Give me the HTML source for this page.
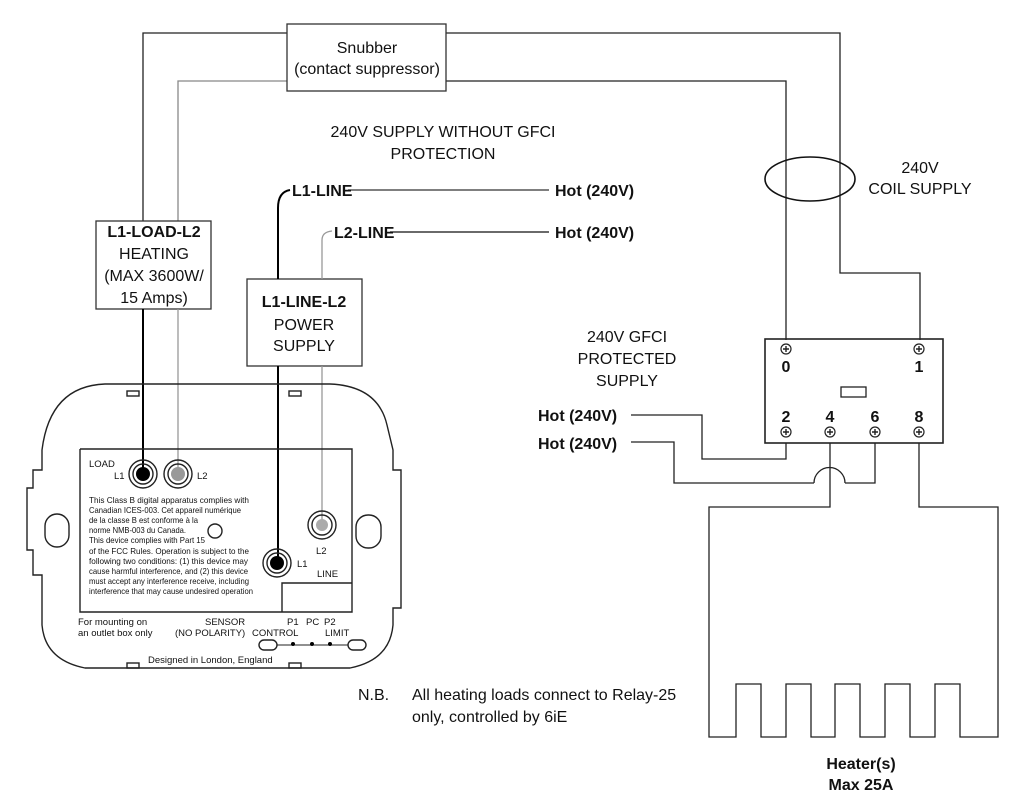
<!DOCTYPE html>
<html><head><meta charset="utf-8"><style>
html,body{margin:0;padding:0;background:#fff}
svg{display:block}
.t{font-family:"Liberation Sans",sans-serif;font-size:16px;fill:#111}
.b{font-weight:bold}
.s{font-family:"Liberation Sans",sans-serif;font-size:8.5px;fill:#111}
.m{font-family:"Liberation Sans",sans-serif;font-size:9.5px;fill:#111}
</style></head><body>
<svg width="1016" height="803" viewBox="0 0 1016 803" xmlns="http://www.w3.org/2000/svg">
<g fill="none" stroke-width="1.3">
<polyline stroke="#222" points="143,221 143,33 287,33"/>
<polyline stroke="#222" points="446,33 840,33 840,273 920,273 920,340"/>
<polyline stroke="#888" points="178,221 178,81 287,81"/>
<polyline stroke="#222" points="446,81 786,81 786,340"/>
<rect x="287" y="24" width="159" height="67" stroke="#333"/>
<ellipse cx="810" cy="179" rx="45" ry="22" stroke="#111" stroke-width="1.6"/>
<rect x="96" y="221" width="115" height="88" stroke="#333"/>
<rect x="247" y="279" width="115" height="87" stroke="#333"/>
<line x1="143" y1="309" x2="143" y2="474" stroke="#000" stroke-width="2"/>
<line x1="178" y1="309" x2="178" y2="474" stroke="#999"/>
<line x1="278" y1="366" x2="278" y2="563" stroke="#000" stroke-width="2"/>
<line x1="322" y1="366" x2="322" y2="525" stroke="#999"/>
<path d="M278 279 V208 Q278 192 290 190" stroke="#000" stroke-width="2"/>
<path d="M322 279 V240 Q322 232 332 231" stroke="#999"/>
<line x1="348" y1="190" x2="549" y2="190" stroke="#333"/>
<line x1="390" y1="232" x2="549" y2="232" stroke="#111"/>
<rect x="765" y="339" width="178" height="104" stroke="#222" stroke-width="1.6"/>
<rect x="841" y="387" width="25" height="10" stroke="#222"/>
<polyline stroke="#222" points="631,415 702,415 702,459 786,459 786,443"/>
<polyline stroke="#222" points="631,442 674,442 674,483 814,483"/>
<path d="M814 483 A15.5 15.5 0 0 1 845 483" stroke="#222"/>
<polyline stroke="#222" points="845,483 875,483 875,443"/>
<polyline stroke="#222" points="830,443 830,507 709,507 709,737 736,737 736,684 761,684 761,737 786,737 786,684 811,684 811,737 835,737 835,684 860,684 860,737 885,737 885,684 910,684 910,737 935,737 935,684 960,684 960,737 998,737 998,507 919,507 919,443"/>
</g>
<g fill="#fff" stroke="#222" stroke-width="1.2">
<circle cx="786" cy="349" r="5"/><circle cx="919" cy="349" r="5"/>
<circle cx="786" cy="432" r="5"/><circle cx="830" cy="432" r="5"/><circle cx="875" cy="432" r="5"/><circle cx="919" cy="432" r="5"/>
</g>
<g stroke="#222" stroke-width="1.4">
<path d="M783 349h6M786 346v6M916 349h6M919 346v6M783 432h6M786 429v6M827 432h6M830 429v6M872 432h6M875 429v6M916 432h6M919 429v6"/>
</g>
<g class="t b" font-size="16" text-anchor="middle">
<text x="786" y="372">0</text><text x="919" y="372">1</text>
<text x="786" y="422">2</text><text x="830" y="422">4</text><text x="875" y="422">6</text><text x="919" y="422">8</text>
</g>
<g fill="none" stroke="#222" stroke-width="1.4">
<path d="M105 384 H330 Q378 386 387 425 L393 450 V470 H401 V608 H393 V625 Q390 660 350 668 H85 Q45 660 42 625 V575 H33 V550 H27 V488 H33 V470 H42 V450 Q50 386 105 384 Z"/>
<path d="M80 449 H352 V583 M80 449 V612 H282 V583 H352 M352 583 V612 H282"/>
<rect x="127" y="391" width="12" height="5"/><rect x="289" y="391" width="12" height="5"/>
<rect x="127" y="663" width="12" height="5"/><rect x="289" y="663" width="12" height="5"/>
<rect x="45" y="514" width="24" height="33" rx="12"/><rect x="356" y="515" width="25" height="33" rx="12"/>
<circle cx="215" cy="531" r="7"/>
<circle cx="143" cy="474" r="14"/><circle cx="143" cy="474" r="10"/>
<circle cx="178" cy="474" r="14"/><circle cx="178" cy="474" r="10"/>
<circle cx="322" cy="525" r="14"/><circle cx="322" cy="525" r="10"/>
<circle cx="277" cy="563" r="14"/><circle cx="277" cy="563" r="10"/>
<rect x="259" y="640" width="18" height="10" rx="5"/><rect x="348" y="640" width="18" height="10" rx="5"/>
<line x1="277" y1="645" x2="348" y2="645" stroke-width="1"/>
</g>
<circle cx="143" cy="474" r="7" fill="#000"/><circle cx="178" cy="474" r="7" fill="#999"/>
<circle cx="322" cy="525" r="6" fill="#aaa"/><circle cx="277" cy="563" r="7" fill="#000"/>
<circle cx="293" cy="644" r="2" fill="#000"/><circle cx="312" cy="644" r="2" fill="#000"/><circle cx="330" cy="644" r="2" fill="#000"/>
<g class="m">
<text x="89" y="467">LOAD</text><text x="114" y="479">L1</text><text x="197" y="479">L2</text>
<text x="316" y="554">L2</text><text x="297" y="567">L1</text><text x="317" y="577">LINE</text>
<text x="78" y="625">For mounting on</text><text x="78" y="636">an outlet box only</text>
<text x="205" y="625">SENSOR</text><text x="175" y="636">(NO POLARITY)</text>
<text x="287" y="625">P1</text><text x="306" y="625">PC</text><text x="324" y="625">P2</text>
<text x="252" y="636">CONTROL</text><text x="325" y="636">LIMIT</text>
<text x="148" y="663">Designed in London, England</text>
</g>
<g class="s" lengthAdjust="spacingAndGlyphs">
<text x="89" y="503" textLength="160" lengthAdjust="spacingAndGlyphs">This Class B digital apparatus complies with</text>
<text x="89" y="513" textLength="152" lengthAdjust="spacingAndGlyphs">Canadian ICES-003. Cet appareil numérique</text>
<text x="89" y="523" textLength="109" lengthAdjust="spacingAndGlyphs">de la classe B est conforme à la</text>
<text x="89" y="533" textLength="97" lengthAdjust="spacingAndGlyphs">norme NMB-003 du Canada.</text>
<text x="89" y="543" textLength="116" lengthAdjust="spacingAndGlyphs">This device complies with Part 15</text>
<text x="89" y="554" textLength="160" lengthAdjust="spacingAndGlyphs">of the FCC Rules. Operation is subject to the</text>
<text x="89" y="564" textLength="159" lengthAdjust="spacingAndGlyphs">following two conditions: (1) this device may</text>
<text x="89" y="574" textLength="159" lengthAdjust="spacingAndGlyphs">cause harmful interference, and (2) this device</text>
<text x="89" y="584" textLength="160" lengthAdjust="spacingAndGlyphs">must accept any interference receive, including</text>
<text x="89" y="594" textLength="164" lengthAdjust="spacingAndGlyphs">interference that may cause undesired operation</text>
</g>
<g class="t" text-anchor="middle">
<text x="367" y="53">Snubber</text>
<text x="367" y="74">(contact suppressor)</text>
<text x="443" y="137">240V SUPPLY WITHOUT GFCI</text>
<text x="443" y="159">PROTECTION</text>
<text x="920" y="173">240V</text>
<text x="920" y="194">COIL SUPPLY</text>
<text x="627" y="342">240V GFCI</text>
<text x="627" y="364">PROTECTED</text>
<text x="627" y="386">SUPPLY</text>
<text x="154" y="237" class="t b">L1-LOAD-L2</text>
<text x="154" y="259">HEATING</text>
<text x="154" y="281">(MAX 3600W/</text>
<text x="154" y="303">15 Amps)</text>
<text x="304" y="307" class="t b">L1-LINE-L2</text>
<text x="304" y="330">POWER</text>
<text x="304" y="351">SUPPLY</text>
<text x="861" y="769" class="t b">Heater(s)</text>
<text x="861" y="790" class="t b">Max 25A</text>
</g>
<g class="t b">
<text x="292" y="196">L1-LINE</text>
<text x="334" y="238">L2-LINE</text>
<text x="555" y="196">Hot (240V)</text>
<text x="555" y="238">Hot (240V)</text>
<text x="538" y="421">Hot (240V)</text>
<text x="538" y="449">Hot (240V)</text>
</g>
<g class="t">
<text x="358" y="700">N.B.</text>
<text x="412" y="700">All heating loads connect to Relay-25</text>
<text x="412" y="722">only, controlled by 6iE</text>
</g>
</svg>
</body></html>
